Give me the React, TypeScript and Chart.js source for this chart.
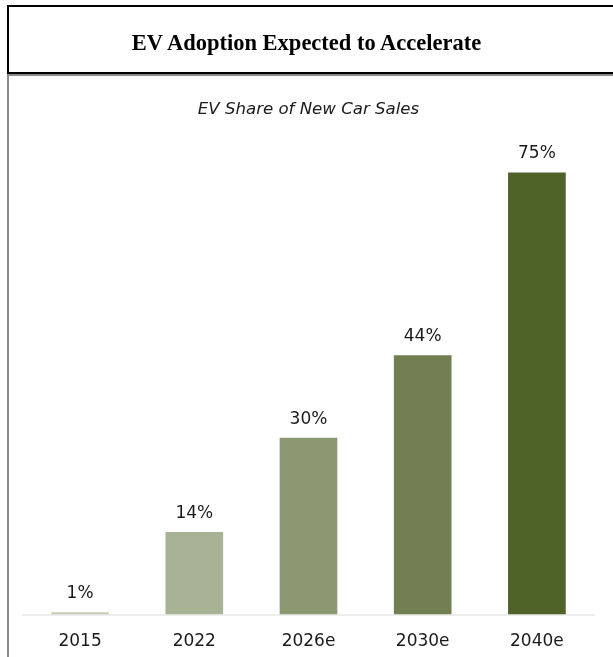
import React, { useEffect, useRef } from "react";
import { Chart, registerables } from "chart.js";

Chart.register(...registerables);

const TITLE = "EV Adoption Expected to Accelerate";
const SUBTITLE = "EV Share of New Car Sales";
const categories = ["2015", "2022", "2026e", "2030e", "2040e"];
const shareValues = [0.4, 14, 30, 44, 75];
const valueLabels = ["1%", "14%", "30%", "44%", "75%"];
const barColors = ["#c8ccb4", "#a8b294", "#8c9872", "#717f52", "#4f6228"];

const SANS = "'DejaVu Sans', Verdana, sans-serif";

const valueLabelPlugin = {
  id: "valueLabels",
  afterDatasetsDraw(chart: any) {
    const ctx = chart.ctx;
    const meta = chart.getDatasetMeta(0);
    ctx.save();
    ctx.font = `17px ${SANS}`;
    ctx.fillStyle = "#1a1a1a";
    ctx.textAlign = "center";
    ctx.textBaseline = "alphabetic";
    meta.data.forEach((bar: any, i: number) => {
      ctx.fillText(valueLabels[i], bar.x, bar.y - 14);
    });
    ctx.restore();
  },
};

export default function App() {
  const canvasRef = useRef<HTMLCanvasElement | null>(null);

  useEffect(() => {
    if (!canvasRef.current) return;
    const chart = new Chart(canvasRef.current, {
      type: "bar",
      data: {
        labels: categories,
        datasets: [
          {
            data: shareValues,
            backgroundColor: barColors,
            borderWidth: 0,
            barPercentage: 0.505,
            categoryPercentage: 1,
          },
        ],
      },
      options: {
        animation: false,
        responsive: true,
        maintainAspectRatio: false,
        layout: { padding: { left: 23, right: 19, top: 90, bottom: 8 } },
        plugins: {
          legend: { display: false },
          tooltip: { enabled: false },
          title: {
            display: true,
            text: SUBTITLE,
            color: "#1a1a1a",
            font: { family: SANS, size: 16.6, style: "italic", weight: "normal" },
            padding: { top: 10, bottom: 23 },
          },
        },
        scales: {
          x: {
            grid: { display: false, drawTicks: false },
            border: { display: true, color: "#eeeeee", width: 2 },
            ticks: {
              color: "#1a1a1a",
              font: { family: SANS, size: 17 },
              padding: 17,
              maxRotation: 0,
            },
          },
          y: {
            display: false,
            min: 0,
            max: 80,
          },
        },
      },
      plugins: [valueLabelPlugin],
    });
    return () => chart.destroy();
  }, []);

  return (
    <div
      style={{
        position: "absolute",
        left: 0,
        top: 0,
        width: 613,
        height: 657,
        overflow: "hidden",
        background: "#ffffff",
      }}
    >
      <div style={{ position: "absolute", left: 0, top: 0, width: 613, height: 677 }}>
        <canvas ref={canvasRef} />
      </div>
      <div
        style={{
          position: "absolute",
          left: 7,
          top: 5,
          width: 640,
          height: 65,
          border: "2px solid #000",
          boxSizing: "content-box",
        }}
      />
      <div
        style={{
          position: "absolute",
          left: 0,
          top: 28,
          width: 613,
          textAlign: "center",
          fontFamily: "'Liberation Serif', 'Times New Roman', serif",
          fontWeight: "bold",
          fontSize: 22.5,
          lineHeight: "30px",
          color: "#000",
        }}
      >
        {TITLE}
      </div>
      <div
        style={{
          position: "absolute",
          left: 7,
          top: 74,
          width: 640,
          height: 700,
          borderTop: "2px solid #8a8a8a",
          borderLeft: "2px solid #8a8a8a",
        }}
      />
    </div>
  );
}
